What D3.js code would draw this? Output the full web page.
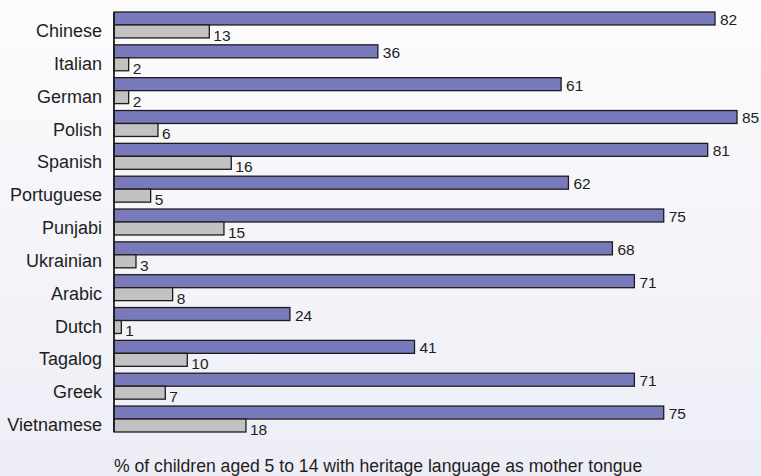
<!DOCTYPE html>
<html>
<head>
<meta charset="utf-8">
<script src="https://cdn.jsdelivr.net/npm/d3@7"></script>
<style>
  html, body { margin: 0; padding: 0; }
  body { width: 761px; height: 476px; overflow: hidden; }
  text { font-family: "Liberation Sans", Arial, sans-serif; fill: #1e1e1e; }
</style>
</head>
<body>
<div class="chart"></div>
<script>
var languages = ['Chinese', 'Italian', 'German', 'Polish', 'Spanish', 'Portuguese', 'Punjabi',
                 'Ukrainian', 'Arabic', 'Dutch', 'Tagalog', 'Greek', 'Vietnamese'];
var purpleValues = [82, 36, 61, 85, 81, 62, 75, 68, 71, 24, 41, 71, 75];
var grayValues = [13, 2, 2, 6, 16, 5, 15, 3, 8, 1, 10, 7, 18];
var axisTitle = '% of children aged 5 to 14 with heritage language as mother tongue';

var width = 761, height = 476;

var x = d3.scaleLinear()
  .domain([0, 85])
  .range([114, 737]);

var y = d3.scaleBand()
  .domain(languages)
  .range([12, 432])
  .paddingInner(0.21)
  .paddingOuter(0);

var sub = d3.scaleBand()
  .domain(['purple', 'gray'])
  .range([0, y.bandwidth()]);

var svg = d3.select('.chart').append('svg')
  .attr('width', width)
  .attr('height', height);

// background gradient
var grad = svg.append('defs').append('linearGradient')
  .attr('id', 'bg')
  .attr('x1', 0).attr('y1', 0).attr('x2', 0).attr('y2', 1);
grad.append('stop').attr('offset', '0%').attr('stop-color', '#fcfcfd');
grad.append('stop').attr('offset', '100%').attr('stop-color', '#ededf6');

svg.append('rect')
  .attr('width', width)
  .attr('height', height)
  .attr('fill', 'url(#bg)');

var rows = languages.map((d, i) => ({name: d, purple: purpleValues[i], gray: grayValues[i]}));

var group = svg.selectAll('.lang')
  .data(rows)
  .enter().append('g')
    .attr('class', 'lang')
    .attr('transform', d => `translate(0, ${y(d.name)})`);

group.append('rect')
    .attr('x', x(0))
    .attr('y', sub('purple'))
    .attr('width', d => x(d.purple) - x(0))
    .attr('height', sub.bandwidth())
    .attr('fill', '#787abb')
    .attr('stroke', '#1c1c1c')
    .attr('stroke-width', 1.3);

group.append('rect')
    .attr('x', x(0))
    .attr('y', sub('gray'))
    .attr('width', d => x(d.gray) - x(0))
    .attr('height', sub.bandwidth())
    .attr('fill', '#c2c2c2')
    .attr('stroke', '#1c1c1c')
    .attr('stroke-width', 1.3);

group.append('text')
    .attr('x', d => x(d.purple) + 5)
    .attr('y', sub('purple') + sub.bandwidth())
    .attr('font-size', 15.5)
    .text(d => d.purple);

group.append('text')
    .attr('x', d => x(d.gray) + 4)
    .attr('y', sub('gray') + sub.bandwidth() + 3)
    .attr('font-size', 15.5)
    .text(d => d.gray);

// category labels
group.append('text')
    .attr('x', 102)
    .attr('y', 25)
    .attr('text-anchor', 'end')
    .attr('font-size', 18)
    .text(d => d.name);

// left axis line
svg.append('line')
  .attr('x1', x(0)).attr('x2', x(0))
  .attr('y1', y.range()[0]).attr('y2', y.range()[1])
  .attr('stroke', '#1c1c1c')
  .attr('stroke-width', 1.8);

svg.append('text')
  .attr('x', 114)
  .attr('y', 472)
  .attr('font-size', 17.6)
  .text(axisTitle);
</script>
</body>
</html>
